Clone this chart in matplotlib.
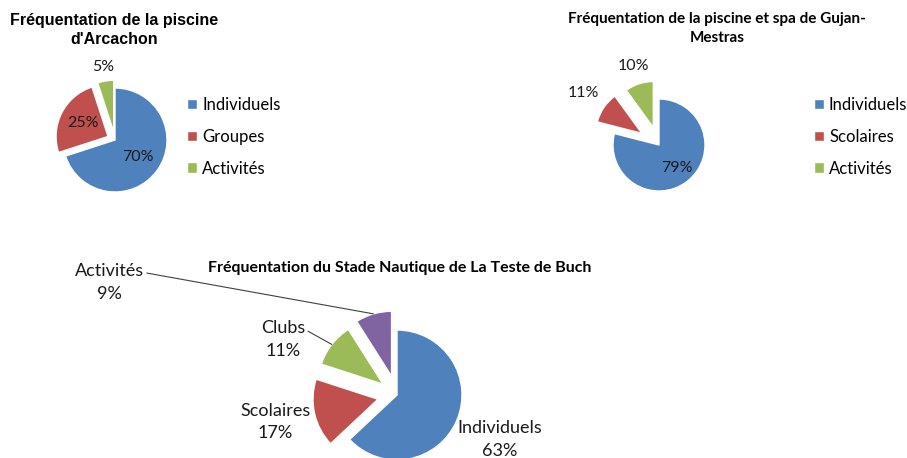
"""Fréquentation des piscines du Bassin d'Arcachon : trois camemberts."""

import numpy as np
import matplotlib.pyplot as plt

W, H = 907, 458

BLUE, RED, GREEN, PURPLE = "#4F81BD", "#C0504D", "#9BBB59", "#8064A2"
TXT = "#1a1a1a"
BODY = "Lato"
ARIAL = "Liberation Sans"

# données
arcachon_labels = ["Individuels", "Groupes", "Activités"]
arcachon_values = [70, 25, 5]

gujan_labels = ["Individuels", "Scolaires", "Activités"]
gujan_values = [79, 11, 10]

teste_labels = ["Individuels", "Scolaires", "Clubs", "Activités"]
teste_values = [63, 17, 11, 9]


def pie_axes(fig, cx, cy, r, half):
    """Square axes centred on pixel (cx, cy) where a unit pie has radius r px."""
    ax = fig.add_axes([(cx - half) / W, 1 - (cy + half) / H, 2 * half / W, 2 * half / H])
    return ax, half / r


def wedge_point(wedge, dist):
    mid = np.deg2rad((wedge.theta1 + wedge.theta2) / 2)
    cx, cy = wedge.center
    return cx + dist * np.cos(mid), cy + dist * np.sin(mid)


def draw_pie(ax, lim, values, colors, explode):
    wedges, _ = ax.pie(values, colors=colors, explode=explode, startangle=90,
                       counterclock=False, radius=1,
                       wedgeprops=dict(edgecolor="white", linewidth=1))
    ax.set_xlim(-lim, lim)
    ax.set_ylim(-lim, lim)
    ax.axis("off")
    return wedges


def legend(fig, handles, labels, x, y):
    fig.legend(handles, labels, loc="upper left", bbox_to_anchor=(x / W, 1 - y / H),
               frameon=False, borderpad=0, borderaxespad=0, handlelength=0.6,
               handleheight=0.6, handletextpad=0.3, labelspacing=0.95,
               prop=dict(family=BODY, size=12))


fig = plt.figure(figsize=(W / 100, H / 100), dpi=100)

# --- Arcachon ---
ax1, lim1 = pie_axes(fig, 115, 140, 52, 80)
w1 = draw_pie(ax1, lim1, arcachon_values, [BLUE, RED, GREEN], [0, 0.15, 0.15])
for w, v, d in zip(w1, arcachon_values, [0.55, 0.55, 1.28]):
    x, y = wedge_point(w, d)
    ax1.text(x, y, f"{v}%", ha="center", va="center", fontsize=11.5,
             family=BODY, color=TXT)
fig.text(114 / W, 1 - 21 / H, "Fréquentation de la piscine", ha="center",
         va="center", fontsize=11.5, fontweight="bold", family=ARIAL)
fig.text(114 / W, 1 - 40 / H, "d'Arcachon", ha="center", va="center",
         fontsize=11.5, fontweight="bold", family=ARIAL)
legend(fig, w1, arcachon_labels, 187, 97)

# --- Gujan-Mestras ---
ax2, lim2 = pie_axes(fig, 659, 145, 46, 80)
w2 = draw_pie(ax2, lim2, gujan_values, [BLUE, RED, GREEN], [0, 0.45, 0.4])
for w, v, d in zip(w2, gujan_values, [0.62, 1.55, 1.4]):
    x, y = wedge_point(w, d)
    ax2.text(x, y, f"{v}%", ha="center", va="center", fontsize=11.5,
             family=BODY, color=TXT)
fig.text(717 / W, 1 - 19 / H, "Fréquentation de la piscine et spa de Gujan-",
         ha="center", va="center", fontsize=11, fontweight="bold", family=BODY)
fig.text(717 / W, 1 - 38 / H, "Mestras", ha="center", va="center",
         fontsize=11, fontweight="bold", family=BODY)
legend(fig, w2, gujan_labels, 814, 97)

# --- La Teste de Buch ---
ax3, lim3 = pie_axes(fig, 397, 395, 65, 90)
w3 = draw_pie(ax3, lim3, teste_values, [BLUE, RED, GREEN, PURPLE], [0, 0.3, 0.27, 0.3])
fig.text(400 / W, 1 - 268 / H, "Fréquentation du Stade Nautique de La Teste de Buch",
         ha="center", va="center", fontsize=11.5, fontweight="bold", family=BODY)

# étiquettes directes
for w, lab, v, d in zip(w3[:2], teste_labels[:2], teste_values[:2], [1.72, 1.62]):
    x, y = wedge_point(w, d)
    ax3.text(x, y, f"{lab}\n{v}%", ha="center", va="center", fontsize=13,
             family=BODY, color=TXT, linespacing=1.5)

# étiquettes avec ligne de rappel (distance, angle en degrés depuis le centre)
callouts = [(2, 1.95, 154), (3, 4.75, 158.6)]
for i, d, ang in callouts:
    a = np.deg2rad(ang)
    ax3.annotate(f"{teste_labels[i]}\n{teste_values[i]}%", xy=wedge_point(w3[i], 1.0),
                 xytext=(d * np.cos(a), d * np.sin(a)), ha="center", va="center",
                 fontsize=13, family=BODY, color=TXT, linespacing=1.55,
                 arrowprops=dict(arrowstyle="-", color="#404040", lw=0.8,
                                 relpos=(1.0, 0.75), shrinkA=0, shrinkB=0))

fig.savefig("out.png", dpi=100)
